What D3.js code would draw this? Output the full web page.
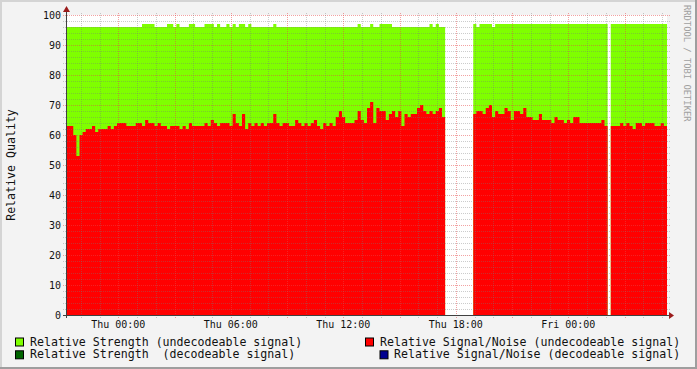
<!DOCTYPE html>
<html>
<head>
<meta charset="utf-8">
<script src="https://cdn.jsdelivr.net/npm/d3@7"></script>
<style>
  html, body { margin: 0; padding: 0; background: #f3f3f3; }
  svg { display: block; }
  text { font-family: "DejaVu Sans Mono", monospace; }
</style>
</head>
<body>
<svg id="chart" width="697" height="369"></svg>
<script>
// time bins: 10 minute steps starting Wed 21:16, 32 hours shown
var startTime = new Date(2009, 0, 14, 21, 16);
var stepMinutes = 10;
var hoursShown = 32;

// Relative Signal/Noise (undecodeable signal), one value per bin, null = no data
var signalNoise = [
  63, 63, 60, 53, 60, 61, 62, 62, 63, 61,
  62, 62, 62, 63, 62, 63, 64, 64, 64, 63,
  63, 63, 64, 64, 63, 65, 64, 64, 63, 64,
  63, 63, 62, 63, 63, 63, 62, 63, 62, 64,
  63, 63, 63, 63, 64, 63, 65, 64, 63, 64,
  64, 64, 63, 67, 64, 63, 67, 62, 64, 63,
  64, 63, 64, 63, 64, 64, 67, 64, 63, 64,
  64, 63, 63, 65, 64, 63, 64, 63, 64, 65,
  63, 62, 64, 63, 64, 63, 66, 68, 66, 64,
  64, 64, 65, 68, 65, 64, 69, 71, 64, 69,
  68, 68, 65, 67, 68, 66, 68, 63, 67, 66,
  67, 67, 69, 70, 68, 67, 68, 67, 68, 69,
  66, null, null, null, null, null, null, null, null, null,
  67, 68, 68, 67, 69, 70, 66, 68, 67, 67,
  69, 68, 65, 68, 68, 67, 69, 66, 66, 65,
  65, 67, 65, 65, 65, 64, 66, 65, 65, 64,
  65, 64, 66, 66, 64, 64, 64, 64, 64, 64,
  64, 65, 63, null, 63, 63, 63, 64, 63, 64,
  63, 62, 64, 64, 63, 64, 64, 64, 63, 63,
  64, 63
];

// Relative Strength (undecodeable signal)
var strength = [
  96, 96, 96, 96, 96, 96, 96, 96, 96, 96,
  96, 96, 96, 96, 96, 96, 96, 96, 96, 96,
  96, 96, 96, 96, 97, 97, 97, 97, 96, 96,
  96, 96, 97, 97, 96, 97, 96, 96, 96, 97,
  97, 96, 96, 96, 97, 97, 97, 96, 97, 96,
  96, 97, 96, 97, 96, 97, 97, 96, 97, 96,
  96, 96, 96, 96, 96, 96, 97, 96, 96, 96,
  96, 96, 96, 96, 96, 96, 96, 96, 96, 96,
  96, 96, 96, 96, 96, 96, 96, 96, 96, 96,
  96, 96, 96, 97, 96, 96, 96, 97, 96, 96,
  97, 97, 97, 97, 96, 96, 96, 96, 96, 96,
  96, 96, 96, 96, 96, 96, 97, 96, 97, 96,
  96, null, null, null, null, null, null, null, null, null,
  97, 96, 97, 97, 97, 97, 96, 97, 97, 97,
  97, 97, 97, 97, 97, 97, 97, 97, 97, 97,
  97, 97, 97, 97, 97, 97, 97, 97, 97, 97,
  97, 97, 97, 97, 97, 97, 97, 97, 97, 97,
  97, 97, 97, null, 97, 97, 97, 97, 97, 97,
  97, 97, 97, 97, 97, 97, 97, 97, 97, 97,
  97, 97
];

var yTicks = [0, 10, 20, 30, 40, 50, 60, 70, 80, 90, 100];

var legendItems = [
  {label: "Relative Strength (undecodeable signal)", color: "#7fff00", bx: 15, tx: 30, row: 0},
  {label: "Relative Signal/Noise (undecodeable signal)", color: "#ff0000", bx: 365, tx: 380, row: 0},
  {label: "Relative Strength  (decodeable signal)", color: "#006400", bx: 15, tx: 30, row: 1},
  {label: "Relative Signal/Noise (decodeable signal)", color: "#000090", bx: 379.5, tx: 394, row: 1}
];

var svg = d3.select("#chart");
var W = 697, H = 369;

var endTime = d3.timeHour.offset(startTime, hoursShown);
var x = d3.scaleTime().domain([startTime, endTime]).range([67, 667]);
var y = d3.scaleLinear().domain([0, 100]).range([315, 15]);

// frame
svg.append("rect").attr("width", W).attr("height", H).attr("fill", "#f3f3f3");
svg.append("rect").attr("x", 0).attr("y", 0).attr("width", W).attr("height", 2).attr("fill", "#d4d4d4");
svg.append("rect").attr("x", 0).attr("y", 0).attr("width", 2).attr("height", H).attr("fill", "#d4d4d4");
svg.append("rect").attr("x", 0).attr("y", H - 2).attr("width", W).attr("height", 2).attr("fill", "#9e9e9e");
svg.append("rect").attr("x", W - 2).attr("y", 0).attr("width", 2).attr("height", H).attr("fill", "#9e9e9e");

// canvas
svg.append("rect")
  .attr("x", x.range()[0]).attr("y", y(100))
  .attr("width", x.range()[1] - x.range()[0]).attr("height", y(0) - y(100))
  .attr("fill", "#ffffff");

function binTime(i) {
  return d3.timeMinute.offset(startTime, i * stepMinutes);
}

function toPoints(vals) {
  var pts = [];
  vals.forEach(function(v, i) {
    if (v == null) {
      pts.push({t: binTime(i), v: null});
      return;
    }
    pts.push({t: binTime(i), v: v});
    if (i == vals.length - 1 || vals[i + 1] == null) {
      pts.push({t: binTime(i + 1), v: v});
    }
  });
  return pts;
}

var area = d3.area()
  .defined(function(d) { return d.v != null; })
  .curve(d3.curveStepAfter)
  .x(function(d) { return x(d.t); })
  .y0(y(0))
  .y1(function(d) { return y(d.v); });

svg.append("path").datum(toPoints(strength)).attr("d", area).attr("fill", "#7fff00");
svg.append("path").datum(toPoints(signalNoise)).attr("d", area).attr("fill", "#ff0000");

// grid (drawn over the data like rrdtool does)
var grid = svg.append("g");
var minorColor = "rgba(120,120,120,0.38)";
var majorColor = "rgba(230,70,70,0.5)";

d3.range(0, 101, 2).forEach(function(v) {
  var major = v % 10 == 0;
  if (v == 0) return;
  grid.append("line")
    .attr("x1", 63).attr("x2", 670)
    .attr("y1", y(v) + 0.5).attr("y2", y(v) + 0.5)
    .attr("stroke", major ? majorColor : minorColor)
    .attr("stroke-dasharray", "1,1");
});

x.ticks(d3.timeHour.every(1)).forEach(function(t) {
  var major = t.getHours() % 3 == 0;
  var px = Math.round(x(t)) + 0.5;
  grid.append("line")
    .attr("x1", px).attr("x2", px)
    .attr("y1", y(100) - 2).attr("y2", y(0) + 3)
    .attr("stroke", major ? majorColor : minorColor)
    .attr("stroke-dasharray", "1,1");
});

// axes
svg.append("line")
  .attr("x1", 63).attr("x2", 669).attr("y1", y(0) + 0.5).attr("y2", y(0) + 0.5)
  .attr("stroke", "#404040");
svg.append("line")
  .attr("x1", 66.5).attr("x2", 66.5).attr("y1", y(0) + 3).attr("y2", 11)
  .attr("stroke", "#404040");
svg.append("path")
  .attr("d", "M669,312 L674,315.5 L669,319 Z")
  .attr("fill", "#9b1c1c");
svg.append("path")
  .attr("d", "M63,12 L66.5,6 L70,12 Z")
  .attr("fill", "#9b1c1c");

// y labels
svg.append("g").selectAll("text").data(yTicks).join("text")
  .attr("x", 61)
  .attr("y", function(d) { return y(d); })
  .attr("dy", "0.36em")
  .attr("text-anchor", "end")
  .attr("font-size", "10px")
  .attr("fill", "#111")
  .text(function(d) { return d; });

// x labels every 6 hours
svg.append("g").selectAll("text").data(x.ticks(d3.timeHour.every(6))).join("text")
  .attr("x", function(d) { return x(d); })
  .attr("y", 327.5)
  .attr("text-anchor", "middle")
  .attr("font-size", "10px")
  .attr("fill", "#111")
  .text(function(d) { return d3.timeFormat("%a %H:%M")(d); });

// y title
svg.append("text")
  .attr("transform", "translate(15," + ((y(0) + y(100)) / 2) + ") rotate(-90)")
  .attr("text-anchor", "middle")
  .attr("font-size", "11.6px")
  .attr("fill", "#111")
  .text("Relative Quality");

// watermark
svg.append("text")
  .attr("transform", "translate(684,5) rotate(90)")
  .attr("font-size", "8.8px")
  .attr("fill", "#a0a0a0")
  .text("RRDTOOL / TOBI OETIKER");

// legend
var leg = svg.append("g");
legendItems.forEach(function(d) {
  var by = 337.5 + d.row * 12.8;
  leg.append("rect")
    .attr("x", d.bx + 0.5).attr("y", by + 0.5)
    .attr("width", 8).attr("height", 8)
    .attr("fill", d.color).attr("stroke", "#000");
  leg.append("text")
    .attr("x", d.tx).attr("y", by + 8)
    .attr("font-size", "11.6px")
    .attr("fill", "#111")
    .style("white-space", "pre")
    .text(d.label);
});
</script>
</body>
</html>
